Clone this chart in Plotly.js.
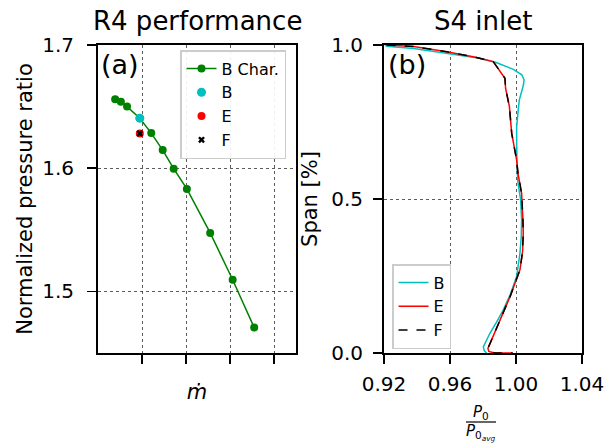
<!DOCTYPE html>
<html>
<head>
<meta charset="utf-8">
<script src="https://cdn.plot.ly/plotly-3.0.1.min.js"></script>
<style>html,body{margin:0;padding:0;background:#fff;}#chart{width:608px;height:444px;}</style>
</head>
<body>
<div id="chart"></div>
<script>
// ---- Panel (a): R4 performance ----
const charMassFlow = [0.39, 0.52, 0.66, 0.95, 1.21, 1.47, 1.72, 2.02, 2.55, 3.06, 3.55];
const charPressure = [1.656, 1.654, 1.650, 1.6406, 1.6285, 1.6147, 1.5996, 1.5832, 1.5475, 1.5095, 1.4706];
const pointB = {x: [0.95], y: [1.6406]};
const pointE = {x: [0.95], y: [1.6282]};
const pointF = {x: [0.95], y: [1.6282]};
const massTicks = [1, 2, 3, 4];
const prTicks = [1.5, 1.6, 1.7];

// ---- Panel (b): S4 inlet ----
const spanB = [1.0, 0.996, 0.989, 0.973, 0.957, 0.943, 0.921, 0.903, 0.887, 0.870, 0.821, 0.791, 0.735, 0.683, 0.605, 0.553, 0.497, 0.432, 0.380, 0.324, 0.248, 0.190, 0.140, 0.100, 0.064, 0.020, 0.007, 0.0];
const p0B   = [0.9206, 0.9216, 0.938, 0.958, 0.978, 0.988, 0.9984, 1.0035, 1.0049, 1.0045, 1.0020, 1.0014, 1.0004, 1.0004, 1.0006, 1.0012, 1.0028, 1.0034, 1.0032, 1.0024, 1.0004, 0.9965, 0.9923, 0.9882, 0.9842, 0.9802, 0.9808, 0.9822];
const spanE = [1.0, 0.995, 0.978, 0.962, 0.946, 0.919, 0.892, 0.859, 0.800, 0.713, 0.626, 0.583, 0.518, 0.432, 0.389, 0.330, 0.270, 0.183, 0.107, 0.031, 0.015, 0.005, 0.0, 0.0];
const p0E   = [0.9216, 0.938, 0.958, 0.974, 0.9862, 0.990, 0.9933, 0.9937, 0.9960, 0.9974, 1.0004, 1.0012, 1.0034, 1.0042, 1.0044, 1.0040, 1.0024, 0.9964, 0.9903, 0.9842, 0.9830, 0.9835, 0.9870, 0.9980];
const spanF = spanE.slice();
const p0F   = p0E.slice();
const p0Ticks = [0.92, 0.96, 1.00, 1.04];
const spanTicks = [0, 0.5, 1.0];

const FONT = 'DejaVu Sans, sans-serif';
const GREEN = '#008000', CYAN = '#00bfbf', RED = '#ff0000';

const traces = [
  {x: charMassFlow, y: charPressure, mode: 'lines+markers', name: 'B Char.',
   line: {color: GREEN, width: 1.5}, marker: {color: GREEN, size: 8}, xaxis: 'x', yaxis: 'y', legend: 'legend'},
  {x: pointB.x, y: pointB.y, mode: 'markers', name: 'B',
   marker: {color: CYAN, size: 9}, xaxis: 'x', yaxis: 'y', legend: 'legend'},
  {x: pointE.x, y: pointE.y, mode: 'markers', name: 'E',
   marker: {color: RED, size: 8}, xaxis: 'x', yaxis: 'y', legend: 'legend'},
  {x: pointF.x, y: pointF.y, mode: 'markers', name: 'F',
   marker: {color: 'black', size: 6, symbol: 'x'}, xaxis: 'x', yaxis: 'y', legend: 'legend'},
  {x: p0B, y: spanB, mode: 'lines', name: 'B', line: {color: CYAN, width: 1.5},
   xaxis: 'x2', yaxis: 'y2', legend: 'legend2'},
  {x: p0E, y: spanE, mode: 'lines', name: 'E', line: {color: RED, width: 1.5},
   xaxis: 'x2', yaxis: 'y2', legend: 'legend2'},
  {x: p0F, y: spanF, mode: 'lines', name: 'F', line: {color: 'black', width: 1.5, dash: 'dash'},
   xaxis: 'x2', yaxis: 'y2', legend: 'legend2'}
];

const W = 608, H = 444;
const px = v => v / W;
const py = v => 1 - v / H;

const axisCommon = {
  showline: true, mirror: true, linecolor: 'black', linewidth: 2,
  ticks: 'outside', ticklen: 9, tickwidth: 1.6, tickcolor: 'black',
  showgrid: true, gridcolor: '#333', gridwidth: 0.8, griddash: 'dot',
  zeroline: false, tickfont: {family: FONT, size: 20, color: 'black'}
};

const layout = {
  width: W, height: H,
  margin: {l: 0, r: 0, t: 0, b: 0},
  paper_bgcolor: 'white', plot_bgcolor: 'white',
  font: {family: FONT, color: 'black'},
  showlegend: true,
  xaxis: Object.assign({}, axisCommon, {
    domain: [px(98), px(296)], range: [0, 4.5], tickvals: massTicks, showticklabels: false,
    anchor: 'y',
    title: {text: '<i>ṁ</i>', font: {family: FONT, size: 21}, standoff: 21}
  }),
  yaxis: Object.assign({}, axisCommon, {
    domain: [py(353), py(45)], range: [1.45, 1.7], tickvals: prTicks, tickformat: '.1f',
    anchor: 'x', ticklabelstandoff: 9,
    title: {text: 'Normalized pressure ratio', font: {family: FONT, size: 21}, standoff: 4}
  }),
  xaxis2: Object.assign({}, axisCommon, {
    domain: [px(384), px(582)], range: [0.92, 1.04], tickvals: p0Ticks, tickformat: '.2f',
    anchor: 'y2', ticklabelstandoff: 3
  }),
  yaxis2: Object.assign({}, axisCommon, {
    domain: [py(353), py(45)], range: [0, 1], tickvals: spanTicks, tickformat: '.1f',
    anchor: 'x2', ticklabelstandoff: 6,
    title: {text: 'Span [%]', font: {family: FONT, size: 21}, standoff: 8}
  }),
  legend: {
    x: px(286), y: py(50), xanchor: 'right', yanchor: 'top', xref: 'paper', yref: 'paper',
    bgcolor: 'rgba(255,255,255,0.9)', bordercolor: '#cccccc', borderwidth: 1.5,
    font: {family: FONT, size: 16, color: 'black'}
  },
  legend2: {
    x: px(392), y: py(349), xanchor: 'left', yanchor: 'bottom', xref: 'paper', yref: 'paper',
    bgcolor: 'rgba(255,255,255,0.9)', bordercolor: '#cccccc', borderwidth: 1.5,
    font: {family: FONT, size: 16, color: 'black'}
  },
  annotations: [
    {text: 'R4 performance', xref: 'paper', yref: 'paper', x: px(197), y: py(21), xanchor: 'center', yanchor: 'middle',
     showarrow: false, font: {family: FONT, size: 26}},
    {text: 'S4 inlet', xref: 'paper', yref: 'paper', x: px(483), y: py(21), xanchor: 'center', yanchor: 'middle',
     showarrow: false, font: {family: FONT, size: 26}},
    {text: '(a)', xref: 'paper', yref: 'paper', x: px(99), y: py(65), xanchor: 'left', yanchor: 'middle',
     showarrow: false, font: {family: FONT, size: 27}},
    {text: '(b)', xref: 'paper', yref: 'paper', x: px(386), y: py(65), xanchor: 'left', yanchor: 'middle',
     showarrow: false, font: {family: FONT, size: 27}},
    {text: '<i>P</i><sub>0</sub>', xref: 'paper', yref: 'paper', x: px(481), y: py(412), xanchor: 'center', yanchor: 'middle',
     showarrow: false, font: {family: FONT, size: 15}},
    {text: '<i>P</i><sub>0<sub><i>avg</i></sub></sub>', xref: 'paper', yref: 'paper', x: px(481), y: py(432), xanchor: 'center', yanchor: 'middle',
     showarrow: false, font: {family: FONT, size: 15}}
  ],
  shapes: [
    {type: 'line', xref: 'paper', yref: 'paper', x0: px(466), x1: px(496), y0: py(422), y1: py(422),
     line: {color: 'black', width: 1.2}}
  ]
};

Plotly.newPlot('chart', traces, layout, {displayModeBar: false, staticPlot: true});
</script>
</body>
</html>
